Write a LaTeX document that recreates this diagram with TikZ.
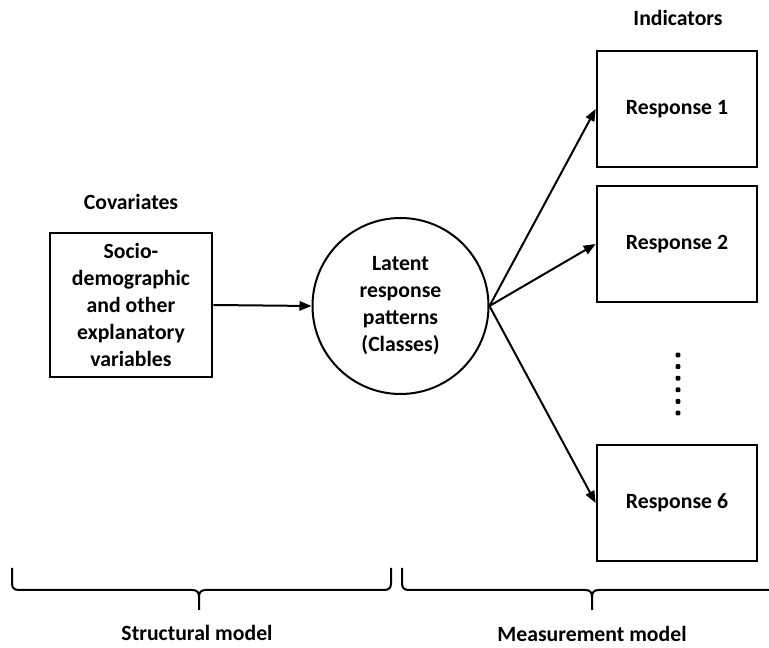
\documentclass[tikz,border=0pt]{standalone}
\usepackage{fontspec}
\setmainfont{Carlito}
\usetikzlibrary{arrows.meta}
\begin{document}
\begin{tikzpicture}[x=0.75pt,y=-0.75pt,
  txt/.style={font=\bfseries\fontsize{16.3}{20.25}\selectfont},
  box/.style={txt,draw,line width=2pt,minimum width=120pt,minimum height=87pt,inner sep=0pt,align=center},
  arr/.style={line width=1.5pt,-{Triangle[length=9pt,width=7pt]}},
  brc/.style={line width=1.5pt},
  dot/.style={fill,rectangle,rounded corners=0.8pt,inner sep=0pt,minimum size=3.6pt}]
\useasboundingbox (0,0) rectangle (769,648);
\node[txt] (ind) at (678,18) {Indicators};
\node[box] (r1) at (677,109) {Response 1};
\node[box] (r2) at (677,244) {Response 2};
\node[box] (r6) at (677,503) {Response 6};
\node[txt] (cov) at (131,202) {Covariates};
\node[box,minimum width=121.5pt,minimum height=108pt] (c) at (131,305) {Socio-\\demographic\\and other\\explanatory\\variables};
\node[txt,draw,circle,line width=1.5pt,minimum size=132pt,inner sep=0pt,align=center] (lat) at (400.5,306) {Latent\\response\\patterns\\(Classes)};
\draw[arr] (c.east) -- (lat.west);
\draw[arr] (lat.east) -- (r1.west);
\draw[arr] (lat.east) -- (r2.west);
\draw[arr] (lat.east) -- (r6.west);
\foreach \i in {0,...,5} \node[dot] (d\i) at (678,355+11.6*\i) {};
\draw[brc] (12,568) -- (12,583) .. controls (12,588) and (14,590) .. (19,590) -- (192,590) .. controls (197,590) and (199,592) .. (199,597) -- (199,610);
\draw[brc] (199,597) .. controls (199,592) and (201,590) .. (206,590) -- (384,590) .. controls (389,590) and (391,588) .. (391,583) -- (391,568);
\draw[brc] (402,568) -- (402,583) .. controls (402,588) and (404,590) .. (409,590) -- (585,590) .. controls (590,590) and (592,592) .. (592,597) -- (592,610);
\draw[brc] (592,597) .. controls (592,592) and (594,590) .. (599,590) -- (775,590);
\node[txt] (sm) at (197,633) {Structural model};
\node[txt] (mm) at (592,634) {Measurement model};
\end{tikzpicture}
\end{document}
